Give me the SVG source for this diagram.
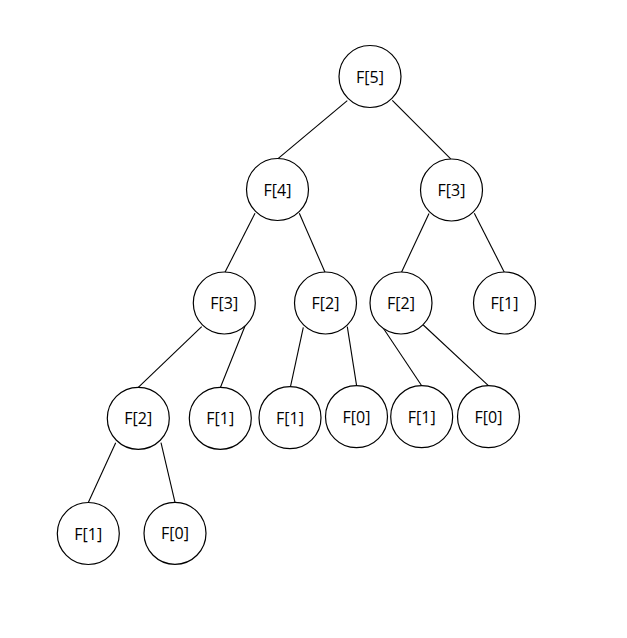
<svg xmlns="http://www.w3.org/2000/svg" width="627" height="638" viewBox="0 0 627 638">
<style>
.n circle{fill:#fff;stroke:#000;stroke-width:1.2}
.n text{font-family:"Open Sans","Noto Sans",sans-serif;font-size:16px;fill:#000;text-anchor:middle;dominant-baseline:central}
#edges line{stroke:#000;stroke-width:1.1}
</style>
<rect width="627" height="638" fill="#fff"/>
<g id="edges">
<line x1="347.3" y1="100.7" x2="277.7" y2="158.8"/>
<line x1="392.3" y1="100.3" x2="450.7" y2="158.8"/>
<line x1="255" y1="213.3" x2="225" y2="272.2"/>
<line x1="299.3" y1="213.3" x2="325" y2="272.2"/>
<line x1="429" y1="213.5" x2="401.5" y2="272.2"/>
<line x1="474.3" y1="213.3" x2="504.3" y2="272.2"/>
<line x1="201.7" y1="326.7" x2="138.3" y2="387.3"/>
<line x1="246.7" y1="321.7" x2="220.5" y2="387.3"/>
<line x1="303.3" y1="327.3" x2="290.5" y2="386.7"/>
<line x1="347.3" y1="326.7" x2="356.6" y2="385.7"/>
<line x1="380" y1="323.3" x2="421.7" y2="385.7"/>
<line x1="423.3" y1="325" x2="488.4" y2="385.7"/>
<line x1="115.7" y1="442.7" x2="88.3" y2="502.5"/>
<line x1="161" y1="442.7" x2="175" y2="502.3"/>
</g>
<g id="n-f5" class="n"><circle cx="370" cy="76.5" r="31"/><text x="370" y="76.5">F[5]</text></g>
<g id="n-f4" class="n"><circle cx="277.5" cy="189.5" r="31"/><text x="277.5" y="189.5">F[4]</text></g>
<g id="n-f3a" class="n"><circle cx="451.5" cy="190" r="31"/><text x="451.5" y="190">F[3]</text></g>
<g id="n-f3b" class="n"><circle cx="224.3" cy="303" r="31"/><text x="224.3" y="303">F[3]</text></g>
<g id="n-f2a" class="n"><circle cx="325.5" cy="303" r="31"/><text x="325.5" y="303">F[2]</text></g>
<g id="n-f2b" class="n"><circle cx="401" cy="303" r="31"/><text x="401" y="303">F[2]</text></g>
<g id="n-f1a" class="n"><circle cx="504.5" cy="303" r="31"/><text x="504.5" y="303">F[1]</text></g>
<g id="n-f2c" class="n"><circle cx="138.3" cy="418.3" r="31"/><text x="138.3" y="418.3">F[2]</text></g>
<g id="n-f1b" class="n"><circle cx="220.3" cy="418.3" r="31"/><text x="220.3" y="418.3">F[1]</text></g>
<g id="n-f1c" class="n"><circle cx="290" cy="417.7" r="31"/><text x="290" y="417.7">F[1]</text></g>
<g id="n-f0a" class="n"><circle cx="356.5" cy="416.7" r="31"/><text x="356.5" y="416.7">F[0]</text></g>
<g id="n-f1d" class="n"><circle cx="421.7" cy="416.7" r="31"/><text x="421.7" y="416.7">F[1]</text></g>
<g id="n-f0b" class="n"><circle cx="488.5" cy="416.7" r="31"/><text x="488.5" y="416.7">F[0]</text></g>
<g id="n-f1e" class="n"><circle cx="88.3" cy="533.5" r="31"/><text x="88.3" y="533.5">F[1]</text></g>
<g id="n-f0c" class="n"><circle cx="175" cy="533.3" r="31"/><text x="175" y="533.3">F[0]</text></g>
</svg>
